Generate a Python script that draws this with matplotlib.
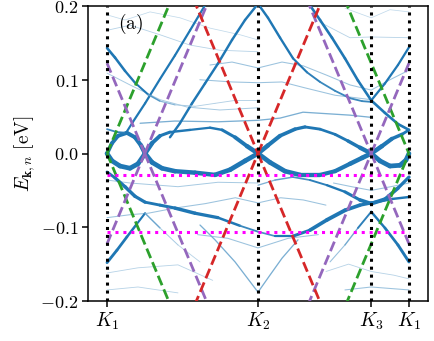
import numpy as np
import matplotlib
matplotlib.use("Agg")
import matplotlib.pyplot as plt
from matplotlib.collections import LineCollection
from matplotlib.colors import to_rgb

plt.rcParams['mathtext.fontset'] = 'cm'
plt.rcParams['font.family'] = ['DejaVu Serif']

# ---------------- data ----------------
k_ticks = [0.0, 1.0, 1.75, 2.0]
k_labels = [r'$K_1$', r'$K_2$', r'$K_3$', r'$K_1$']
y_ticks = [-0.2, -0.1, 0.0, 0.1, 0.2]

# Dirac cones (centre on path, velocity)
v_dirac = 0.49
green_centres = [0.0, 2.0]
red_centres = [1.0]
purple_centres = [0.25, 1.75]
purple_ranges = [(0.0, 1.0), (1.0, 2.0)]

# horizontal reference energies
magenta_levels = [-0.029, -0.107]

# bands: k, E, weight
upper_arc_k = [0, 0.033, 0.073, 0.132, 0.185, 0.225, 0.252]
upper_arc_E = [0, 0.014, 0.024, 0.028, 0.022, 0.011, 0]
upper_arc_w = [0.8, 0.8, 0.8, 0.8, 0.85, 0.9, 1.0]

lower_arc_k = [0, 0.033, 0.086, 0.152, 0.205, 0.252]
lower_arc_E = [0, -0.010, -0.017, -0.020, -0.014, 0]
lower_arc_w = [1.0, 1.0, 1.0, 1.0, 1.0, 1.0]

upper_main_k = [0.252, 0.298, 0.351, 0.417, 0.550, 0.682, 0.762, 0.848, 0.927, 1.0, 1.066,
                1.146, 1.245, 1.311, 1.411, 1.510, 1.596, 1.675, 1.75, 1.821, 1.887, 1.954, 2.0]
upper_main_E = [0, 0.014, 0.024, 0.029, 0.032, 0.035, 0.032, 0.022, 0.010, 0, 0.011,
                0.024, 0.033, 0.036, 0.033, 0.026, 0.017, 0.008, 0, 0.010, 0.020, 0.026, 0.032]
upper_main_w = [1.0, 0.9, 0.7, 0.5, 0.4, 0.4, 0.5, 0.7, 0.9, 1.0, 0.9,
                0.8, 0.7, 0.6, 0.5, 0.5, 0.6, 0.8, 1.0, 0.9, 0.8, 0.6, 0.5]

lower_main_k = [0.252, 0.298, 0.364, 0.450, 0.583, 0.715, 0.815, 0.914, 1.0, 1.079, 1.179,
                1.278, 1.411, 1.510, 1.609, 1.689, 1.75]
lower_main_E = [0, -0.012, -0.020, -0.024, -0.026, -0.029, -0.022, -0.010, 0, -0.012, -0.024,
                -0.029, -0.029, -0.024, -0.014, -0.006, 0]
lower_main_w = [1.0, 1.0, 1.0, 0.95, 0.9, 0.95, 1.0, 1.0, 1.0, 1.0, 1.0,
                0.95, 0.85, 0.85, 0.9, 1.0, 1.0]

lower_loop_k = [1.75, 1.808, 1.874, 1.940, 1.980, 2.0]
lower_loop_E = [0, -0.010, -0.017, -0.016, -0.009, 0]
lower_loop_w = [1.0, 1.0, 1.0, 1.0, 1.0, 1.0]

s2_k = [0, 0.066, 0.126, 0.172, 0.252, 0.351, 0.450, 0.550, 0.649]
s2_E = [0.033, 0.029, 0.028, 0.043, 0.068, 0.101, 0.133, 0.167, 0.201]
s2_w = [0.3, 0.3, 0.35, 0.4, 0.4, 0.4, 0.4, 0.4, 0.4]

k2_left_k = [0.417, 0.483, 0.563, 0.649, 0.735, 0.828, 0.914, 1.0]
k2_left_E = [0.022, 0.041, 0.068, 0.095, 0.122, 0.154, 0.181, 0.203]
k2_left_w = [0.45] * 8

k2_right_k = [1.0, 1.066, 1.146, 1.232, 1.325, 1.411, 1.510, 1.609, 1.689, 1.75]
k2_right_E = [0.203, 0.184, 0.157, 0.129, 0.110, 0.097, 0.085, 0.075, 0.071, 0.070]
k2_right_w = [0.45, 0.45, 0.45, 0.4, 0.35, 0.3, 0.3, 0.3, 0.3, 0.3]

r1_k = [1.344, 1.411, 1.490, 1.576, 1.662, 1.75, 1.841, 1.927, 2.0]
r1_E = [0.201, 0.181, 0.157, 0.129, 0.099, 0.072, 0.055, 0.040, 0.032]
r1_w = [0.5] * 9

s1_left_k = [0, 0.053, 0.119, 0.185, 0.272, 0.351, 0.450, 0.583, 0.715, 0.848, 1.0]
s1_left_E = [0.143, 0.130, 0.112, 0.096, 0.080, 0.071, 0.066, 0.064, 0.068, 0.072, 0.072]
s1_left_w = [0.5, 0.5, 0.45, 0.4, 0.3, 0.2, 0.12, 0.08, 0.08, 0.08, 0.08]

s1_right_k = [1.75, 1.841, 1.927, 2.0]
s1_right_E = [0.072, 0.095, 0.120, 0.144]
s1_right_w = [0.4, 0.4, 0.4, 0.4]

l1_k = [0, 0.066, 0.132, 0.192, 0.252, 0.351, 0.470, 0.616]
l1_E = [-0.148, -0.131, -0.113, -0.097, -0.081, -0.101, -0.124, -0.147]
l1_w = [0.55, 0.55, 0.5, 0.45, 0.3, 0.12, 0.08, 0.06]

lr_k = [1.477, 1.576, 1.662, 1.75, 1.841, 1.927, 2.0]
lr_E = [-0.147, -0.124, -0.101, -0.079, -0.101, -0.124, -0.147]
lr_w = [0.1, 0.15, 0.25, 0.4, 0.5, 0.55, 0.6]

lb2_k = [0, 0.053, 0.119, 0.185, 0.252, 0.351, 0.450, 0.583, 0.735, 0.881, 1.0, 1.113,
         1.232, 1.344, 1.457, 1.576, 1.675, 1.75, 1.874, 2.0]
lb2_E = [-0.025, -0.033, -0.045, -0.058, -0.066, -0.070, -0.074, -0.081, -0.087, -0.098, -0.106,
         -0.112, -0.112, -0.104, -0.090, -0.077, -0.070, -0.067, -0.062, -0.059]
lb2_w = [0.5, 0.6, 0.7, 0.7, 0.6, 0.5, 0.7, 0.7, 0.6, 0.35, 0.25, 0.3,
         0.5, 0.7, 0.8, 0.8, 0.7, 0.6, 0.5, 0.4]

lb3_k = [1.0, 1.113, 1.232, 1.344, 1.457, 1.576, 1.675, 1.75, 1.841, 1.927, 2.0]
lb3_E = [-0.043, -0.036, -0.032, -0.036, -0.043, -0.052, -0.063, -0.068, -0.062, -0.047, -0.032]
lb3_w = [0.15, 0.2, 0.25, 0.3, 0.35, 0.5, 0.7, 0.8, 0.8, 0.7, 0.6]

# faint bands
t1_k = [0, 0.152, 0.351, 0.530, 0.748, 1.0]
t1_E = [0.109, 0.093, 0.073, 0.063, 0.059, 0.062]
t2_k = [0.219, 0.450, 0.735, 1.0, 1.146, 1.298, 1.609, 1.75]
t2_E = [0.041, 0.044, 0.043, 0.045, 0.048, 0.056, 0.052, 0.049]
t3_k = [0, 0.152, 0.351, 0.550, 0.748, 1.0]
t3_E = [0.167, 0.174, 0.161, 0.147, 0.140, 0.138]
t4_k = [0, 0.119, 0.285, 0.483, 0.682, 0.881, 1.0]
t4_E = [0.188, 0.181, 0.192, 0.184, 0.170, 0.161, 0.154]
t5_k = [0.682, 0.828, 1.0, 1.159, 1.298, 1.457, 1.609, 1.75, 1.874, 2.0]
t5_E = [0.120, 0.124, 0.116, 0.124, 0.119, 0.106, 0.093, 0.086, 0.100, 0.113]
t6_k = [0.615, 0.828, 1.0, 1.159, 1.311, 1.510, 1.75]
t6_E = [0.100, 0.097, 0.096, 0.097, 0.089, 0.079, 0.073]
t7_k = [1.411, 1.609, 1.75, 2.0]
t7_E = [0.178, 0.157, 0.158, 0.157]
t8_k = [1.576, 1.75, 1.874, 2.0]
t8_E = [0.197, 0.184, 0.195, 0.192]
b1_k = [0, 0.152, 0.470, 0.735, 1.0]
b1_E = [-0.036, -0.040, -0.045, -0.039, -0.040]
b2_k = [0, 0.152, 0.272, 0.450, 0.650, 0.850, 1.0, 1.15, 1.30, 1.45]
b2_E = [-0.087, -0.083, -0.081, -0.074, -0.068, -0.060, -0.067, -0.060, -0.063, -0.070]
b3_k = [0.6, 0.8, 1.0, 1.2, 1.4]
b3_E = [-0.110, -0.115, -0.128, -0.115, -0.110]
b4_k = [0.616, 0.715, 0.848, 1.0, 1.079, 1.159, 1.265]
b4_E = [-0.097, -0.117, -0.147, -0.188, -0.165, -0.142, -0.117]
b5_k = [0, 0.205, 0.470, 0.700]
b5_E = [-0.162, -0.155, -0.151, -0.172]
b6_k = [0, 0.205, 0.470]
b6_E = [-0.185, -0.181, -0.189]
b7_k = [1.576, 1.75, 2.0]
b7_E = [-0.185, -0.181, -0.185]
b8_k = [1.45, 1.6, 1.75, 1.9, 2.0]
b8_E = [-0.160, -0.150, -0.160, -0.165, -0.170]
b9_k = [1.5, 1.62, 1.75, 1.88, 2.0]
b9_E = [-0.040, -0.045, -0.050, -0.045, -0.040]

faint = [(t1_k, t1_E, 0.1), (t2_k, t2_E, 0.18), (t3_k, t3_E, 0.07), (t4_k, t4_E, 0.05),
         (t5_k, t5_E, 0.12), (t6_k, t6_E, 0.12), (t7_k, t7_E, 0.07), (t8_k, t8_E, 0.05),
         (b1_k, b1_E, 0.1), (b2_k, b2_E, 0.12), (b3_k, b3_E, 0.12), (b4_k, b4_E, 0.18),
         (b5_k, b5_E, 0.07), (b6_k, b6_E, 0.07), (b7_k, b7_E, 0.12), (b8_k, b8_E, 0.07),
         (b9_k, b9_E, 0.12)]

strong = [(upper_arc_k, upper_arc_E, upper_arc_w), (lower_arc_k, lower_arc_E, lower_arc_w),
          (upper_main_k, upper_main_E, upper_main_w), (lower_main_k, lower_main_E, lower_main_w),
          (lower_loop_k, lower_loop_E, lower_loop_w), (s2_k, s2_E, s2_w),
          (k2_left_k, k2_left_E, k2_left_w), (k2_right_k, k2_right_E, k2_right_w),
          (r1_k, r1_E, r1_w), (s1_left_k, s1_left_E, s1_left_w),
          (s1_right_k, s1_right_E, s1_right_w), (l1_k, l1_E, l1_w), (lr_k, lr_E, lr_w),
          (lb2_k, lb2_E, lb2_w), (lb3_k, lb3_E, lb3_w)]

# ---------------- plot ----------------
fig = plt.figure(figsize=(4.35, 3.41), dpi=100)
ax = fig.add_axes([88 / 435, 1 - 301 / 341, 340 / 435, 295 / 341])

blue = np.array(to_rgb('#1f77b4'))
white = np.ones(3)


def wcolor(w):
    a = 0.15 + 0.85 * min(1.0, w / 0.35)
    return tuple(white * (1 - a) + blue * a)


def wlw(w):
    return 0.4 + 3.0 * w


for k, E, w in faint:
    ax.plot(k, E, color=wcolor(w), lw=wlw(w), zorder=2, solid_capstyle='round',
            solid_joinstyle='round')

for k, E, w in strong:
    pts = np.column_stack([k, E])
    segs = np.stack([pts[:-1], pts[1:]], axis=1)
    ws = [(w[i] + w[i + 1]) / 2 for i in range(len(w) - 1)]
    lc = LineCollection(segs, linewidths=[wlw(x) for x in ws],
                        colors=[wcolor(x) for x in ws], capstyle='round',
                        joinstyle='round', zorder=3)
    ax.add_collection(lc)

# Dirac cones
ext = 0.2 / v_dirac + 0.05


def cone(c, lo, hi, color):
    for s in (1, -1):
        for d in (-1, 1):
            a, b = c, c + d * ext
            a2, b2 = max(lo, min(a, b)), min(hi, max(a, b))
            if b2 <= a2:
                continue
            kk = np.array([a2, b2])
            ax.plot(kk, s * v_dirac * np.abs(kk - c), ls='--', lw=2.0, color=color,
                    zorder=5, dashes=(3.7, 1.6))


for c in green_centres:
    cone(c, 0.0, 2.0, '#2ca02c')
for c, (lo, hi) in zip(purple_centres, purple_ranges):
    cone(c, lo, hi, '#9467bd')
for c in red_centres:
    cone(c, 0.0, 2.0, '#d62728')

for lvl in magenta_levels:
    ax.plot([0, 2.0], [lvl, lvl], ls=(0, (1, 1.6)), lw=2.2, color='#ff00ff', zorder=6)
for kt in k_ticks:
    ax.plot([kt, kt], [-0.2, 0.2], ls=(0, (1, 1.6)), lw=2.2, color='black', zorder=6)

ax.set_xlim(-0.126, 2.126)
ax.set_ylim(-0.2, 0.2)
ax.set_xticks(k_ticks)
ax.set_xticklabels(k_labels, fontsize=14)
ax.set_yticks(y_ticks)
ax.set_yticklabels([r'$%.1f$' % v for v in y_ticks], fontsize=13)
ax.tick_params(direction='out', length=4, width=1.1, pad=3)
for sp in ax.spines.values():
    sp.set_linewidth(1.1)
ax.set_ylabel(r'$E_{\mathbf{k},n}\ [\mathrm{eV}]$', fontsize=14, labelpad=2)
ax.text(0.07, 0.175, r'$\mathrm{(a)}$', fontsize=14, ha='left', va='center', zorder=7)

fig.savefig('out.png', dpi=100)
